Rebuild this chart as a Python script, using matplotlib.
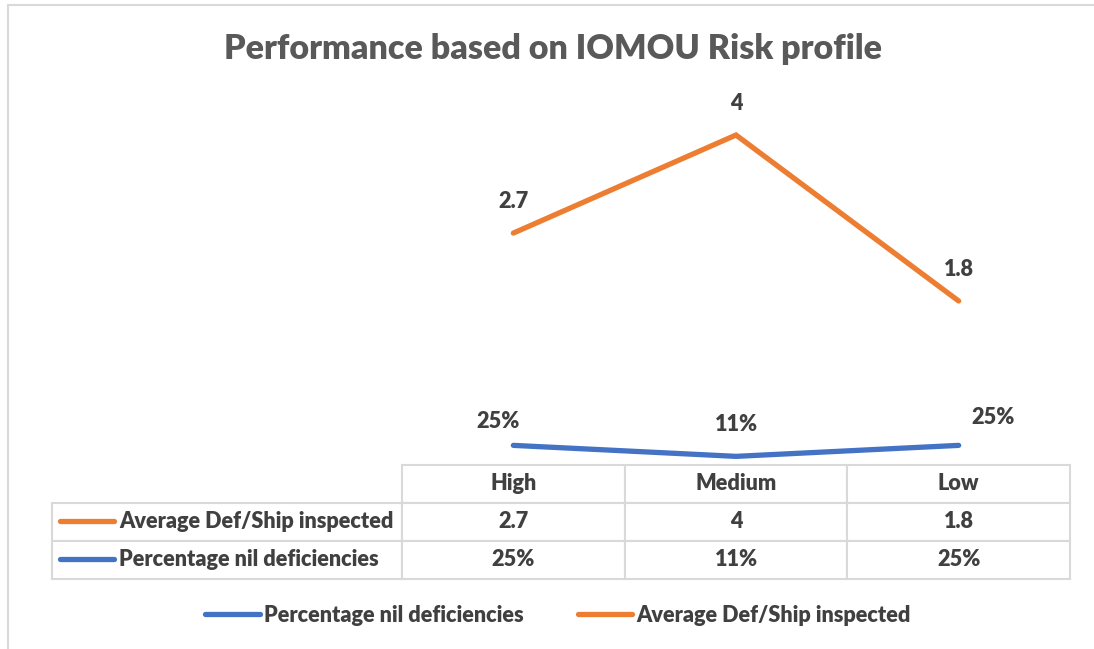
import matplotlib.pyplot as plt
from matplotlib.table import Table
from matplotlib.lines import Line2D

# data
categories = ["High", "Medium", "Low"]
avg_def = [2.7, 4, 1.8]
pct_nil = [0.25, 0.11, 0.25]
avg_name = "Average Def/Ship inspected"
pct_name = "Percentage nil deficiencies"

ORANGE = "#ED7D31"
BLUE = "#4472C4"
TXT = "#404040"
GRID = "#D9D9D9"
FONT = "Lato"
WT = "heavy"
FS = 15.6

plt.rcParams['font.family'] = [FONT, 'DejaVu Sans']


def fmt_avg(v):
    return f"{round(v, 1):g}"


def fmt_pct(v):
    return f"{v:.0%}"


W, H = 1094, 649
fig = plt.figure(figsize=(W / 100, H / 100), dpi=100)

# plot area in pixels (left, top, right, bottom)
L, T, R, B = 402, 85, 1070, 465
ax = fig.add_axes([L / W, 1 - B / H, (R - L) / W, (B - T) / H])
ax2 = ax.twinx()

x = list(range(len(categories)))
ax.plot(x, avg_def, color=ORANGE, lw=3.8, solid_capstyle='round', solid_joinstyle='miter')
ax2.plot(x, pct_nil, color=BLUE, lw=3.8, solid_capstyle='round', solid_joinstyle='miter')

ax.set_xlim(-0.5, 2.5)
ax.set_ylim(-0.374, 4.663)
ax2.set_ylim(0.0, 4.84)
for a in (ax, ax2):
    a.axis('off')

# data labels
for xi, v in zip(x, avg_def):
    ax.annotate(fmt_avg(v), (xi, v), xytext=(0, 23), textcoords='offset points',
                ha='center', va='center', fontsize=FS, fontweight=WT, color=TXT)
pct_offsets = [(-11, 17), (0, 23), (25, 20)]
for xi, v, off in zip(x, pct_nil, pct_offsets):
    ax2.annotate(fmt_pct(v), (xi, v), xytext=off, textcoords='offset points',
                 ha='center', va='center', fontsize=FS, fontweight=WT, color=TXT)

# data table under the plot
tbl_left, tbl_bottom = 52, 579
row_h = (tbl_bottom - B) / 3 / (B - T)
lab_w = (L - tbl_left) / (R - L)
col_w = 1 / 3
tb = Table(ax, bbox=[0, -3 * row_h, 1, 3 * row_h])
for j, c in enumerate(categories):
    tb.add_cell(0, j, width=col_w, height=row_h, text=c, loc='center')
rows = [(avg_name, [fmt_avg(v) for v in avg_def], ORANGE),
        (pct_name, [fmt_pct(v) for v in pct_nil], BLUE)]
for i, (name, vals, col) in enumerate(rows, start=1):
    cell = tb.add_cell(i, -1, width=lab_w, height=row_h, text=name, loc='left')
    cell.PAD = 67 / (L - tbl_left)
    for j, v in enumerate(vals):
        tb.add_cell(i, j, width=col_w, height=row_h, text=v, loc='center')
    # legend key inside row label
    ky = -row_h * (i + 0.5) + 0.003
    ax.plot([(60 - L) / (R - L), (114 - L) / (R - L)], [ky, ky], color=col, lw=3.8,
            solid_capstyle='round', transform=ax.transAxes, clip_on=False)

tb.auto_set_font_size(False)
tb.set_fontsize(FS)
for key, cell in tb.get_celld().items():
    cell.set_edgecolor(GRID)
    cell.set_linewidth(1.5)
    cell.get_text().set_color(TXT)
    cell.get_text().set_fontweight(WT)
ax.add_table(tb)

# bottom legend
handles = [Line2D([], [], color=BLUE, lw=3.8, solid_capstyle='round'),
           Line2D([], [], color=ORANGE, lw=3.8, solid_capstyle='round')]
leg = fig.legend(handles, [pct_name, avg_name], loc='center', bbox_to_anchor=(558 / W, 1 - 615 / H),
                 ncol=2, frameon=False, handlelength=2.5, handletextpad=0.2, columnspacing=2.5,
                 prop={'weight': WT, 'size': FS})
for t in leg.get_texts():
    t.set_color(TXT)

fig.suptitle("Performance based on IOMOU Risk profile", x=553 / W, y=1 - 49 / H, va='center',
             fontsize=24.5, fontweight=WT, color="#595959")

# chart border (cropped at right and bottom)
fig.add_artist(Line2D([8 / W, 8 / W], [0, 1 - 5 / H], color=GRID, lw=1.5))
fig.add_artist(Line2D([8 / W, 1], [1 - 5 / H, 1 - 5 / H], color=GRID, lw=1.5))

fig.savefig("out.png", dpi=100)
